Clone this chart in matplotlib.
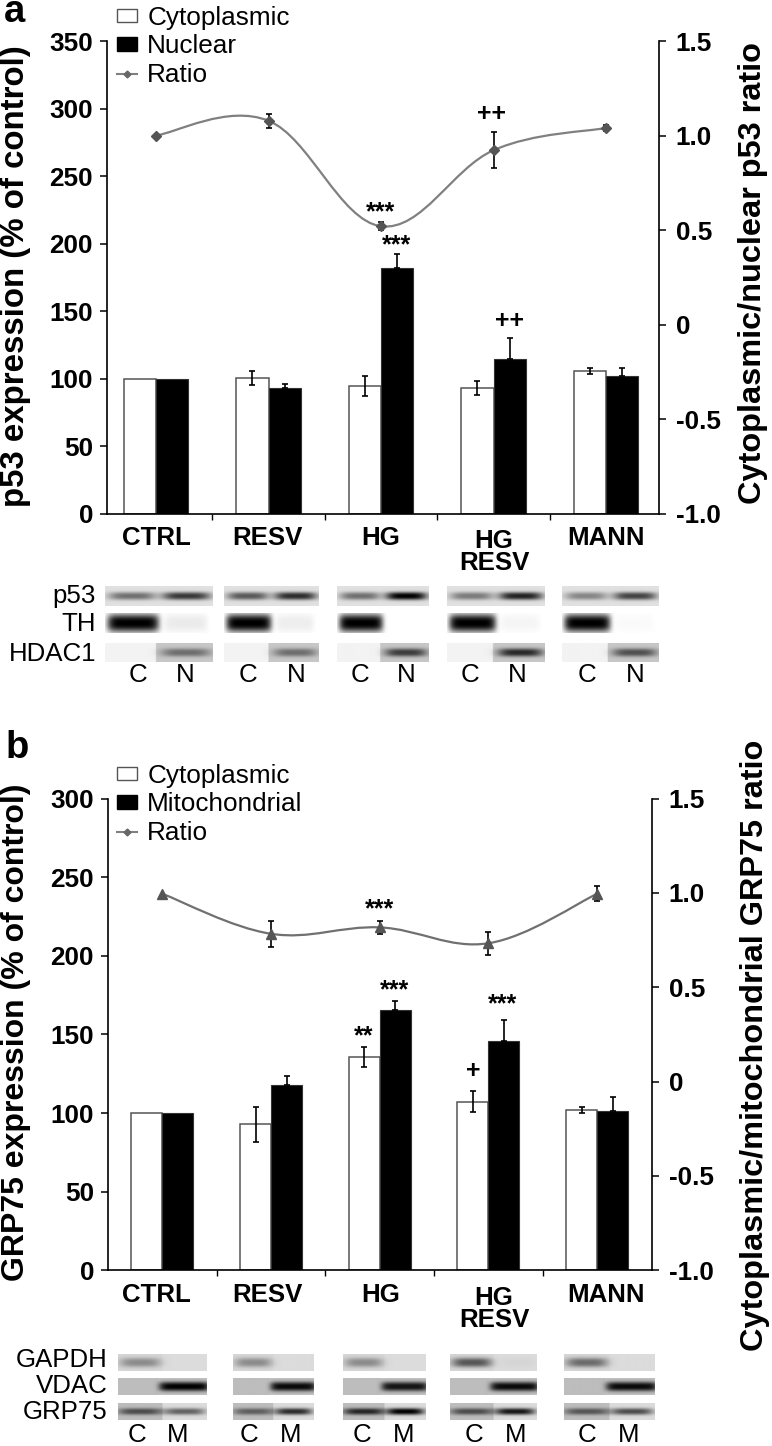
#!/usr/bin/env python3

import numpy as np
import matplotlib
matplotlib.use('Agg')
import matplotlib.pyplot as plt
from matplotlib.lines import Line2D
from matplotlib.path import Path
from matplotlib.patches import PathPatch

W, H = 772, 1446

plt.rcParams['font.family'] = ['Liberation Sans', 'DejaVu Sans']

# Data, panel a
cyto_a = [100, 100.4, 94.7, 93, 105.4]
cyto_a_err = [0, 5, 7.3, 5, 2.4]
nuc_a = [99.6, 93, 181.6, 114.2, 101.9]
nuc_a_err = [0, 3.2, 10.4, 16, 5.9]
ratio_a = [1.0, 1.078, 0.52, 0.922, 1.04]
ratio_a_err = [0, 0.038, 0.02, 0.095, 0.017]

# Data, panel b
cyto_b = [100, 92.9, 135.7, 107.3, 101.8]
cyto_b_err = [0, 11.2, 6.6, 6.8, 2]
mito_b = [100, 118, 165.6, 146, 101.3]
mito_b_err = [0, 5.8, 5.5, 13.4, 8.7]
ratio_b = [0.995, 0.783, 0.817, 0.733, 0.995]
ratio_b_err = [0, 0.069, 0.034, 0.062, 0.04]

left_ticks_a = [0, 50, 100, 150, 200, 250, 300, 350]
left_ticks_b = [0, 50, 100, 150, 200, 250, 300]
right_ticks = [-1.0, -0.5, 0, 0.5, 1.0, 1.5]
right_labels = ['-1.0', '-0.5', '0', '0.5', '1.0', '1.5']

# Band strengths on the blots, one per group (CTRL, RESV, HG, HG RESV, MANN)
p53_c = [0.5, 0.6, 0.5, 0.45, 0.4]
p53_n = [0.75, 0.8, 1.0, 0.85, 0.7]
th_c = [1.0, 1.0, 1.0, 1.0, 1.0]
th_n = [0.08, 0.07, 0.0, 0.04, 0.02]
hdac_c = [0.0, 0.0, 0.0, 0.0, 0.0]
hdac_n = [0.45, 0.45, 0.7, 0.8, 0.6]
gapdh_c = [0.35, 0.35, 0.35, 0.6, 0.5]
gapdh_m = [0.0, 0.0, 0.0, 0.03, 0.0]
vdac_c = [0.0, 0.0, 0.0, 0.0, 0.0]
vdac_m = [1.0, 0.95, 0.9, 0.95, 0.95]
grp75_c = [0.6, 0.5, 0.8, 0.6, 0.55]
grp75_m = [0.55, 0.8, 1.0, 0.9, 0.65]

fig = plt.figure(figsize=(W / 100, H / 100), dpi=100, facecolor='white')

# overlay in image pixels, for the labels and the blots
ov = fig.add_axes([0, 0, 1, 1], zorder=5)
ov.axis('off')


def smooth_line(ax, vals, color):
    # same kind of smoothing a spreadsheet line has
    pts = np.column_stack([np.arange(len(vals)), vals])
    verts = [pts[0]]
    codes = [Path.MOVETO]
    for i in range(len(pts) - 1):
        prev = pts[max(i - 1, 0)]
        nxt = pts[min(i + 2, len(pts) - 1)]
        verts += [pts[i] + (pts[i + 1] - prev) / 5.5, pts[i + 1] - (nxt - pts[i]) / 5.5, pts[i + 1]]
        codes += [Path.CURVE4, Path.CURVE4, Path.CURVE4]
    ax.add_patch(PathPatch(Path(verts, codes), fill=False, edgecolor=color, lw=1.6))


def panel(box, xlim, bars1, err1, bars2, err2, ratio, ratio_err, ymax, yticks,
          name2, marker, ms, line_color, legend_pos):
    left, right, top, bottom = box
    ax = fig.add_axes([left / W, 1 - bottom / H, (right - left) / W, (bottom - top) / H])
    x = np.arange(5)
    width = 0.285
    eb = dict(fmt='none', ecolor='black', elinewidth=1.2, capsize=2.2, capthick=1.2)
    ax.bar(x - width / 2, bars1, width, color='white', edgecolor='#555555', linewidth=1.1)
    ax.bar(x + width / 2, bars2, width, color='black', edgecolor='#333333', linewidth=0.8)
    # the control group has no error bars, it is the reference
    ax.errorbar(x[1:] - width / 2, bars1[1:], yerr=err1[1:], **eb)
    ax.errorbar(x[1:] + width / 2, bars2[1:], yerr=[[0] * 4, err2[1:]], **eb)
    ax.set_xlim(*xlim)
    ax.set_ylim(0, ymax)
    ax.set_yticks(yticks)
    ax.set_xticks([0.5, 1.5, 2.5, 3.5])
    ax.set_xticklabels([])
    ax.spines['top'].set_visible(False)
    ax.spines['right'].set_visible(False)
    for s in ['left', 'bottom']:
        ax.spines[s].set_linewidth(1.2)
    ax.tick_params(axis='y', length=5, width=1.1, pad=5, labelsize=18.8)
    ax.tick_params(axis='x', length=4, width=1.0)
    for t in ax.get_yticklabels():
        t.set_fontweight('bold')

    ax2 = ax.twinx()
    ax2.set_xlim(*xlim)
    ax2.set_ylim(-1, 1.5)
    ax2.set_yticks(right_ticks)
    ax2.set_yticklabels(right_labels, fontweight='bold', fontsize=18.8)
    ax2.spines['top'].set_visible(False)
    ax2.spines['left'].set_visible(False)
    ax2.spines['bottom'].set_visible(False)
    ax2.spines['right'].set_linewidth(1.2)
    ax2.tick_params(axis='y', length=5, width=1.1, pad=7)
    smooth_line(ax2, ratio, line_color)
    ax2.errorbar(x[1:], ratio[1:], yerr=ratio_err[1:], **eb)
    ax2.plot(x, ratio, linestyle='none', marker=marker, ms=ms, color='#555555', mec='#555555')

    handles = [
        plt.Rectangle((0, 0), 1, 1, facecolor='white', edgecolor='#555555', linewidth=1.0),
        plt.Rectangle((0, 0), 1, 1, facecolor='black', edgecolor='black'),
        Line2D([], [], color='#808080', lw=1.5, marker='D', ms=3.5, mfc='#666666', mec='#666666'),
    ]
    ax.legend(handles, ['Cytoplasmic', name2, 'Ratio'], frameon=False, fontsize=18.8,
              loc='upper left', bbox_to_anchor=(legend_pos[0] / W, 1 - legend_pos[1] / H),
              bbox_transform=fig.transFigure, borderpad=0, borderaxespad=0,
              handlelength=0.78, handleheight=0.42, handletextpad=0.38, labelspacing=0.17)
    return ax


panel((107, 659, 41, 513.5), (-0.4356, 4.471), cyto_a, cyto_a_err, nuc_a, nuc_a_err,
      ratio_a, ratio_a_err, 350, left_ticks_a, 'Nuclear', 'D', 5, '#808080', (117, 6))
panel((108, 652, 798.5, 1270.3), (-0.5, 4.505), cyto_b, cyto_b_err, mito_b, mito_b_err,
      ratio_b, ratio_b_err, 300, left_ticks_b, 'Mitochondrial', '^', 6.5, '#707070', (117, 764))


def gel(box, bg_c, bg_n, split, c_span, n_span, c_val, n_val, thick, sharp=4):
    x0, x1, y0, y1 = box
    w, h = int((x1 - x0) * 2), int((y1 - y0) * 2)
    xx, yy = np.meshgrid(np.linspace(0, 1, w), np.linspace(0, 1, h))
    img = np.where(xx < split, bg_c, bg_n)
    for span, val in ((c_span, c_val), (n_span, n_val)):
        centre = (span[0] + span[1]) / 2
        half = (span[1] - span[0]) / 2
        band = np.exp(-(np.abs(xx - centre) / half) ** sharp) * np.exp(-(np.abs(yy - 0.5) / thick) ** 2.6)
        img = img * (1 - val * band)
    ov.imshow(img, extent=(x0, x1, y1, y0), cmap='gray', vmin=0, vmax=1, aspect='auto', interpolation='bilinear')


groups_a = [(105, 213), (224, 319), (337, 428.5), (447, 545), (561.5, 658)]
groups_b = [(118, 207), (232.5, 313), (343, 426), (450, 537), (563.5, 653.6)]
for i, (g0, g1) in enumerate(groups_a):
    gel((g0, g1, 586, 606), 0.88, 0.88, 0.5, (0.03, 0.47), (0.53, 0.98), p53_c[i], p53_n[i], 0.2)
    gel((g0, g1, 613, 633), 1.0, 1.0, 0.5, (0.02, 0.5), (0.55, 0.95), th_c[i], th_n[i], 0.46, sharp=8)
    gel((g0, g1, 643, 662), 0.95, 0.78, 0.47, (0.05, 0.4), (0.52, 0.98), hdac_c[i], hdac_n[i], 0.22)
for i, (g0, g1) in enumerate(groups_b):
    gel((g0, g1, 1354, 1371), 0.84, 0.86, 0.5, (0.02, 0.48), (0.6, 0.98), gapdh_c[i], gapdh_m[i], 0.28)
    gel((g0, g1, 1378, 1395), 0.74, 0.76, 0.45, (0.05, 0.4), (0.46, 1.03), vdac_c[i], vdac_m[i], 0.28, sharp=8)
    gel((g0, g1, 1403, 1420), 0.74, 0.86, 0.5, (0.0, 0.5), (0.52, 0.98), grp75_c[i], grp75_m[i], 0.2)

ov.set_xlim(0, W)
ov.set_ylim(H, 0)


def label(x, y, s, size=18.6, weight='normal', ha='center', rot=0, va='center'):
    ov.text(x, y, s, fontsize=size, fontweight=weight, ha=ha, va=va, rotation=rot)


# category labels
cat_x = [156.5, 267.5, 381, 494, 606]
for y, y2, yres in ((538, 541, 563), (1295, 1298, 1320)):
    label(cat_x[0], y, 'CTRL', weight='bold')
    label(cat_x[1], y, 'RESV', weight='bold')
    label(cat_x[2], y, 'HG', weight='bold')
    label(cat_x[3], y2, 'HG', weight='bold')
    label(cat_x[3], yres, 'RESV', weight='bold')
    label(cat_x[4], y, 'MANN', weight='bold')

# lane letters
c_x_a = [138, 248, 360, 470, 587]
n_x = [185, 296, 406, 517, 635]
c_x_b = [136.5, 249, 362, 474, 587]
m_x = [178, 291, 404, 516, 629]
for i in range(5):
    label(c_x_a[i], 675, 'C')
    label(n_x[i], 675, 'N')
    label(c_x_b[i], 1435, 'C')
    label(m_x[i], 1435, 'M')

# blot names
for y, s in ((596, 'p53'), (624, 'TH'), (654, 'HDAC1')):
    label(96, y, s, ha='right')
for y, s in ((1360, 'GAPDH'), (1386, 'VDAC'), (1412, 'GRP75')):
    label(107.5, y, s, ha='right')

# axis titles
label(16, 276, 'p53 expression (% of control)', size=23.8, weight='bold', rot=90)
label(753, 273, 'Cytoplasmic/nuclear p53 ratio', size=23.4, weight='bold', rot=90)
label(16, 1032, 'GRP75 expression (% of control)', size=23, weight='bold', rot=90)
label(755, 1045, 'Cytoplasmic/mitochondrial GRP75 ratio', size=23.4, weight='bold', rot=90)

# panel letters
label(4, 22, 'a', size=27.5, weight='bold', ha='left', va='baseline')
label(6, 758, 'b', size=27.5, weight='bold', ha='left', va='baseline')

# significance marks
for x, y, s in ((381, 212, '***'), (397, 245, '***'), (492, 114, '++'), (509, 321, '++'),
                (380, 909, '***'), (395, 990, '***'), (503, 1004, '***'), (364, 1036, '**'), (473, 1071, '+')):
    label(x, y, s, size=18, weight='bold')

fig.savefig('out.png', dpi=100, facecolor='white')
